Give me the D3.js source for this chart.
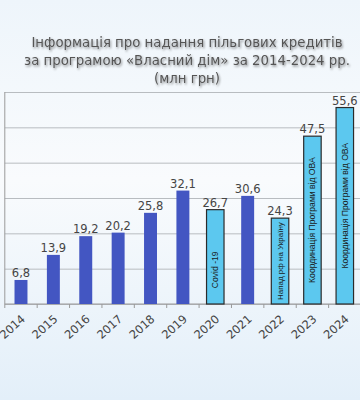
<!DOCTYPE html>
<meta charset="utf-8">
<style>
body { margin: 0; }
svg { display: block; }
.title { font-family: "DejaVu Sans", Verdana, sans-serif; font-size: 13.3px; fill: #555; text-anchor: middle; }
.val { font-family: "DejaVu Sans", Verdana, sans-serif; font-size: 11.5px; fill: #454545; text-anchor: middle; }
.note { font-family: "Liberation Sans Narrow", "Liberation Sans", Arial, sans-serif; font-size: 8.6px; fill: #1a1a1a; text-anchor: middle; }
.x.axis text { font-family: "DejaVu Sans", Verdana, sans-serif; font-size: 11.5px; fill: #454545; }
.x.axis line { stroke: #9a9a9a; }
.grid line { stroke: #b8bcc0; }
.grid path { display: none; }
</style>
<body>
<svg width="360" height="400"></svg>
<script src="https://d3js.org/d3.v7.min.js"></script>
<script>

var years = ["2014","2015","2016","2017","2018","2019","2020","2021","2022","2023","2024"];
var values = [6.8, 13.9, 19.2, 20.2, 25.8, 32.1, 26.7, 30.6, 24.3, 47.5, 55.6];
var special = [false, false, false, false, false, false, true, false, true, true, true];
var notes = ["", "", "", "", "", "", "Covid -19", "", "Напад рф на Україну", "Координація Програми від ОВА", "Координація Програми від ОВА"];
var yTicks = [0, 10, 20, 30, 40, 50, 60];
var titleLines = ["Інформація про надання пільгових кредитів", "за програмою «Власний дім» за 2014-2024 рр.", "(млн грн)"];

var data = years.map(function(y, i) {
  return {year: y, value: values[i], special: special[i], note: notes[i]};
});

var svg = d3.select("svg");

// background
var defs = svg.append("defs");
var grad = defs.append("linearGradient").attr("id", "bg").attr("x1", 0).attr("y1", 0).attr("x2", 0).attr("y2", 1);
grad.append("stop").attr("offset", "0%").attr("stop-color", "#eef5fb");
grad.append("stop").attr("offset", "45%").attr("stop-color", "#f9fbfd");
grad.append("stop").attr("offset", "100%").attr("stop-color", "#e3eff9");
var sh = defs.append("filter").attr("id", "shadow").attr("x", "-5%").attr("y", "-20%").attr("width", "110%").attr("height", "150%");
sh.append("feDropShadow").attr("dx", 1).attr("dy", 1.5).attr("stdDeviation", 0.9).attr("flood-color", "#000").attr("flood-opacity", 0.45);

svg.append("rect").attr("width", 360).attr("height", 400).attr("fill", "url(#bg)");

svg.selectAll(".title")
  .data(titleLines)
  .enter().append("text")
    .attr("class", "title")
    .attr("filter", "url(#shadow)")
    .attr("x", 187)
    .attr("y", function(d, i) { return 47 + i * 18; })
    .text(function(d) { return d; });

var plotL = 4.8, plotR = 361, plotT = 92, plotB = 304;

var x = d3.scaleBand().domain(years).range([plotL, plotR]).paddingInner(0.6).paddingOuter(0.3);
var step = x.step();
var y = d3.scaleLinear().domain([0, 60]).range([plotB, plotT]);

// grid
svg.append("g")
    .attr("class", "grid")
    .attr("transform", "translate(" + plotL + ",0)")
    .call(d3.axisRight(y).tickValues(yTicks).tickSize(plotR - plotL).tickFormat(""));

svg.append("line")
    .attr("x1", plotL).attr("x2", plotL).attr("y1", plotT).attr("y2", plotB)
    .attr("stroke", "#9a9a9a");
svg.append("line")
    .attr("x1", plotL).attr("x2", plotR).attr("y1", plotB).attr("y2", plotB)
    .attr("stroke", "#9a9a9a");

// x axis: ticks at band boundaries
var xb = svg.append("g").attr("class", "x axis").attr("transform", "translate(0," + plotB + ")");
xb.selectAll("line")
  .data(d3.range(years.length + 1))
  .enter().append("line")
    .attr("x1", function(i) { return plotL + i * step; })
    .attr("x2", function(i) { return plotL + i * step; })
    .attr("y1", 0).attr("y2", 4);
xb.selectAll("text")
  .data(years)
  .enter().append("text")
    .attr("text-anchor", "end")
    .attr("transform", function(d) { return "translate(" + (x(d) + x.bandwidth() / 2 + 5) + ",16) rotate(-42)"; })
    .text(function(d) { return d; });

var bw = x.bandwidth();
var wide = bw * 1.35;

svg.selectAll(".bar")
  .data(data)
  .enter().append("rect")
    .attr("class", "bar")
    .attr("x", function(d) { var c = x(d.year) + bw / 2; return c - (d.special ? wide : bw) / 2; })
    .attr("width", function(d) { return d.special ? wide : bw; })
    .attr("y", function(d) { return y(d.value); })
    .attr("height", function(d) { return plotB - y(d.value); })
    .attr("fill", function(d) { return d.special ? "#5cc8ef" : "#4356c2"; })
    .attr("stroke", function(d) { return d.special ? "#2b2b2b" : "none"; })
    .attr("stroke-width", 1.2);

svg.selectAll(".val")
  .data(data)
  .enter().append("text")
    .attr("class", "val")
    .attr("x", function(d) { return x(d.year) + bw / 2; })
    .attr("y", function(d) { return y(d.value) - 3; })
    .text(function(d) { return String(d.value).replace(".", ","); });

svg.selectAll(".note")
  .data(data.filter(function(d) { return d.note; }))
  .enter().append("text")
    .attr("class", "note")
    .attr("transform", function(d) {
      var cx = x(d.year) + bw / 2 + 3;
      var cy = d.year === "2020" ? y(d.value / 2) + 13 : (y(d.value) + plotB) / 2;
      return "translate(" + cx + "," + cy + ") rotate(-90)";
    })
    .text(function(d) { return d.note; })
    .each(function(d) {
      // shrink text that would spill out of its bar
      var room = plotB - y(d.value) - 8;
      var len = this.getComputedTextLength();
      if (len > room) d3.select(this).style("font-size", (8.6 * room / len) + "px");
    });

</script>
</body>
